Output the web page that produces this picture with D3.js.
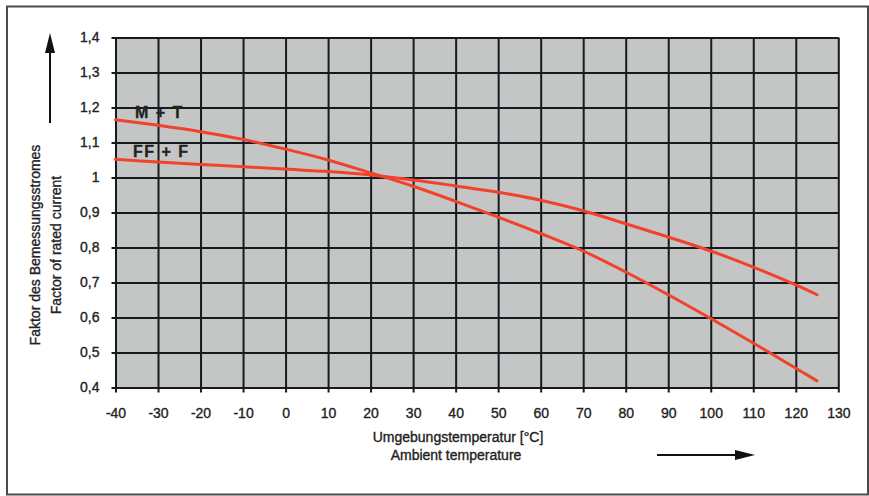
<!DOCTYPE html>
<html>
<head>
<meta charset="utf-8">
<script src="https://cdn.jsdelivr.net/npm/d3@7"></script>
<style>
  body { margin: 0; background: #fff; }
  text { font-family: "Liberation Sans", Arial, sans-serif; fill: #222; stroke: #222; stroke-width: 0.35px; }
</style>
</head>
<body>
<div id="chart"></div>
<script>
// data
var temps = [-40, -30, -20, -10, 0, 10, 20, 30, 40, 50, 60, 70, 80, 90, 100, 110, 120, 125];
var mt    = [1.165, 1.149, 1.131, 1.109, 1.081, 1.05, 1.013, 0.975, 0.932, 0.887, 0.84, 0.79, 0.73, 0.665, 0.597, 0.527, 0.455, 0.419];
var ff    = [1.052, 1.044, 1.037, 1.031, 1.024, 1.017, 1.007, 0.993, 0.976, 0.958, 0.935, 0.905, 0.868, 0.83, 0.79, 0.744, 0.693, 0.665];
var xTicks = [-40, -30, -20, -10, 0, 10, 20, 30, 40, 50, 60, 70, 80, 90, 100, 110, 120, 130];
var yTicks = [0.4, 0.5, 0.6, 0.7, 0.8, 0.9, 1, 1.1, 1.2, 1.3, 1.4];
var seriesNames = ["M + T", "FF + F"];

var W = 869, H = 496;
var margin = {top: 37.5, right: 30.7, bottom: 108.5, left: 115.5},
    width = W - margin.left - margin.right,
    height = H - margin.top - margin.bottom;

var root = d3.select("#chart")
  .append("svg")
    .attr("width", W)
    .attr("height", H);

// outer frame
root.append("rect")
  .attr("x", 7).attr("y", 6.5)
  .attr("width", 861).attr("height", 488)
  .attr("fill", "none")
  .attr("stroke", "#4a4a4a")
  .attr("stroke-width", 2);

var svg = root.append("g")
  .attr("transform", "translate(" + margin.left + "," + margin.top + ")");

var x = d3.scaleLinear().domain([-40, 130]).range([0, width]);
var y = d3.scaleLinear().domain([0.4, 1.4]).range([height, 0]);

// plot background
svg.append("rect")
  .attr("width", width).attr("height", height)
  .attr("fill", "#c4c6c5");

// horizontal grid + y labels
var yAxis = svg.append("g")
  .attr("transform", "translate(-4,0)")
  .call(d3.axisLeft(y)
    .tickValues(yTicks)
    .tickSize(-(width + 4))
    .tickPadding(12)
    .tickFormat(function(d) { return String(d).replace(".", ","); }));

// vertical grid + x labels
var xAxis = svg.append("g")
  .attr("transform", "translate(0," + (height + 5) + ")")
  .call(d3.axisBottom(x)
    .tickValues(xTicks)
    .tickSize(-(height + 5))
    .tickPadding(16)
    .tickFormat(function(d) { return String(d); }));

[xAxis, yAxis].forEach(function(a) {
  a.select(".domain").remove();
  a.selectAll("line").attr("stroke", "#161a20").attr("stroke-width", 2);
  a.selectAll("text")
    .style("font-size", "14px")
    .style("font-family", "'Liberation Sans', Arial, sans-serif")
    .attr("fill", "#222");
});

// curves
var line = d3.line()
  .x(function(d) { return x(d[0]); })
  .y(function(d) { return y(d[1]); })
  .curve(d3.curveCatmullRom.alpha(0.5));

[mt, ff].forEach(function(vals) {
  svg.append("path")
    .datum(temps.map(function(t, i) { return [t, vals[i]]; }))
    .attr("fill", "none")
    .attr("stroke", "#f2422b")
    .attr("stroke-width", 3)
    .attr("stroke-linecap", "round")
    .attr("d", line);
});

// series labels
svg.append("text")
  .attr("x", x(-35.4)).attr("y", y(1.17))
  .style("font-size", "16px").style("font-weight", "bold")
  .style("letter-spacing", "1.5px")
  .text(seriesNames[0]);
svg.append("text")
  .attr("x", x(-35.9)).attr("y", y(1.06))
  .style("font-size", "16px").style("font-weight", "bold")
  .style("letter-spacing", "1.5px")
  .text(seriesNames[1]);

// axis titles
root.append("text")
  .attr("x", 458).attr("y", 442)
  .attr("text-anchor", "middle")
  .style("font-size", "14px")
  .text("Umgebungstemperatur [°C]");
root.append("text")
  .attr("x", 456).attr("y", 460)
  .attr("text-anchor", "middle")
  .style("font-size", "14px")
  .text("Ambient temperature");

root.append("text")
  .attr("transform", "translate(40,245) rotate(-90)")
  .attr("text-anchor", "middle")
  .style("font-size", "14px")
  .text("Faktor des Bemessungsstromes");
root.append("text")
  .attr("transform", "translate(61,245) rotate(-90)")
  .attr("text-anchor", "middle")
  .style("font-size", "14px")
  .text("Factor of rated current");

// arrows
root.append("line")
  .attr("x1", 50).attr("y1", 123).attr("x2", 50).attr("y2", 50)
  .attr("stroke", "#111").attr("stroke-width", 2);
root.append("path")
  .attr("d", "M50,33 L45,53 L55,53 Z")
  .attr("fill", "#111");

root.append("line")
  .attr("x1", 657).attr("y1", 455).attr("x2", 738).attr("y2", 455)
  .attr("stroke", "#111").attr("stroke-width", 2);
root.append("path")
  .attr("d", "M755,455 L735,450 L735,460 Z")
  .attr("fill", "#111");
</script>
</body>
</html>
